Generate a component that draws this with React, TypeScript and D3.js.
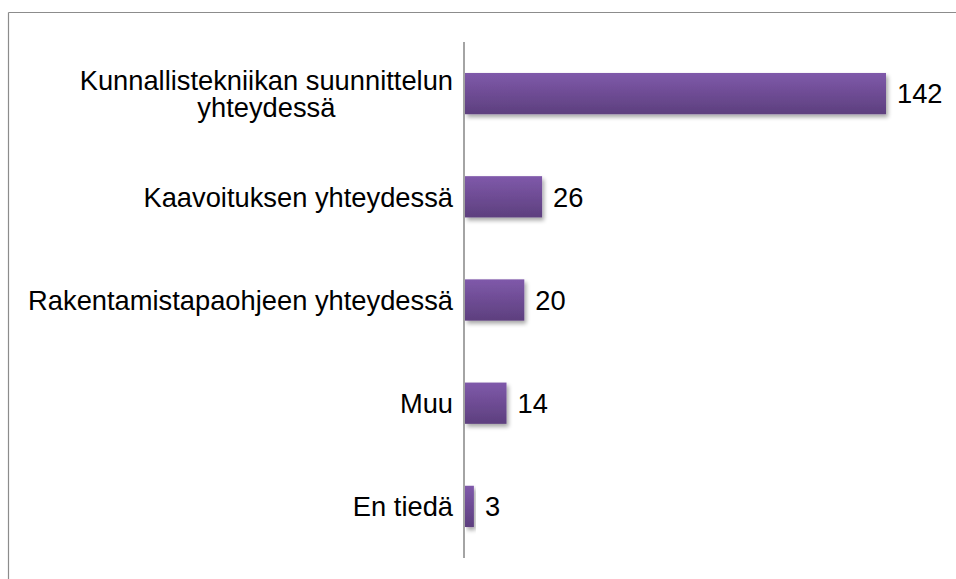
import React from 'react'
import * as d3 from 'd3'

// categories, top to bottom
const categories = [
  ['Kunnallistekniikan suunnittelun', 'yhteydessä'],
  ['Kaavoituksen yhteydessä'],
  ['Rakentamistapaohjeen yhteydessä'],
  ['Muu'],
  ['En tiedä'],
]
const values = [142, 26, 20, 14, 3]

const W = 956
const H = 579
const FONT = '"Liberation Sans", Arial, sans-serif'
const FS = 27.3

let ctx: CanvasRenderingContext2D | null = null
function textWidth(t: string) {
  if (!ctx) ctx = document.createElement('canvas').getContext('2d')
  if (!ctx) return t.length * FS * 0.5
  ctx.font = `${FS}px ${FONT}`
  return ctx.measureText(t).width
}

export default function App() {
  const axisX = 464
  const top = 42
  const bottom = 558
  const labelRight = 453

  const x = d3.scaleLinear().domain([0, 142]).range([axisX + 1, 886])
  const y = d3.scaleBand<number>()
    .domain(d3.range(values.length))
    .range([top, bottom])
    .paddingInner(0.6)
    .paddingOuter(0.3)

  return (
    <svg width={W} height={H} style={{ position: 'absolute', left: 0, top: 0 }}>
      <defs>
        <linearGradient id='barGrad' x1='0' y1='0' x2='0' y2='1'>
          <stop offset='0%' stopColor='#7f59aa' />
          <stop offset='100%' stopColor='#5d3f7e' />
        </linearGradient>
        <filter id='shadow' x='-10%' y='-30%' width='130%' height='180%'>
          <feGaussianBlur in='SourceAlpha' stdDeviation='2' />
          <feOffset dx='2' dy='3' result='b' />
          <feComponentTransfer>
            <feFuncA type='linear' slope='0.35' />
          </feComponentTransfer>
          <feMerge>
            <feMergeNode />
            <feMergeNode in='SourceGraphic' />
          </feMerge>
        </filter>
      </defs>
      <rect x={0} y={0} width={W} height={H} fill='#fff' />
      {/* chart border (cropped) */}
      <line x1={8.5} y1={12.5} x2={W} y2={12.5} stroke='#8c8c8c' strokeWidth={1.2} />
      <line x1={8.5} y1={12.5} x2={8.5} y2={H} stroke='#8c8c8c' strokeWidth={1.2} />

      {values.map((v, i) => {
        const by = y(i)!
        const bh = y.bandwidth()
        const cy = by + bh / 2
        const lines = categories[i]
        const lh = 26.7
        const blockW = d3.max(lines, textWidth) || 0
        const cx = labelRight - blockW / 2
        return (
          <g key={i}>
            <rect x={x(0)} y={by} width={x(v) - x(0)} height={bh}
              fill='url(#barGrad)' filter='url(#shadow)' />
            <text x={x(v) + 11} y={cy} dy='0.36em' fontSize={FS}
              fontFamily={FONT} fill='#000'>{v}</text>
            <text textAnchor='middle' fontSize={FS} fontFamily={FONT} fill='#000'>
              {lines.map((t, j) => (
                <tspan key={j} x={cx} y={cy + (j - (lines.length - 1) / 2) * lh}
                  dy='0.36em'>{t}</tspan>
              ))}
            </text>
          </g>
        )
      })}

      <line x1={axisX} y1={top} x2={axisX} y2={bottom} stroke='#868686' strokeWidth={1.5} />
    </svg>
  )
}
